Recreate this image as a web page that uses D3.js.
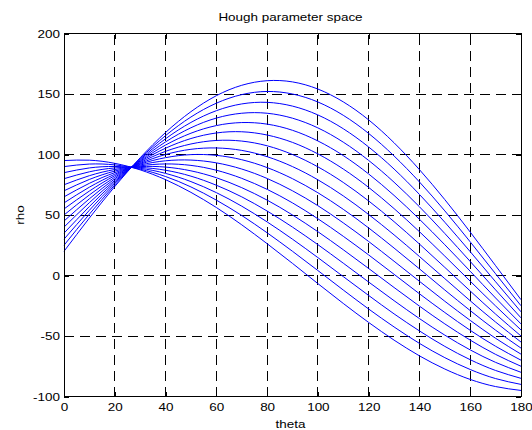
<!DOCTYPE html>
<html><head><meta charset="utf-8">
<script src="https://cdn.jsdelivr.net/npm/d3@7"></script>
<style>body{margin:0;background:#fff}svg{display:block}</style>
</head><body><svg id="chart" width="532" height="430"></svg>
<script>
// ---- data ----
const titleText = "Hough parameter space";
const xLabelText = "theta";
const yLabelText = "rho";
const thetaValues = [0,10,20,30,40,50,60,70,80,90,100,110,120,130,140,150,160,170,180];
const xTicks = [0,20,40,60,80,100,120,140,160,180];
const yTicks = [-100,-50,0,50,100,150,200];

const curveA = [20,47.5,73.5,97.3,118.2,135.4,148.6,157.2,161.0,160,154.1,143.5,128.6,109.7,87.5,62.7,35.9,8.1,-20];
const curveB = [25,50.7,74.8,96.7,115.6,131.0,142.4,149.5,152.1,150,143.4,132.4,117.4,98.8,77.3,53.4,27.8,1.4,-25];
const curveC = [30,53.9,76.1,96.0,113.0,126.5,136.2,141.8,143.1,140,132.7,121.3,106.2,88.0,67.0,44.0,19.7,-5.2,-30];
const curveD = [35,57.0,77.4,95.3,110.4,122.1,130.1,134.1,134.1,130,122.0,110.2,95.1,77.1,56.8,34.7,11.6,-11.9,-35];
const curveE = [40,60.2,78.6,94.6,107.8,117.6,123.9,126.4,125.1,120,111.2,99.1,83.9,66.2,46.5,25.4,3.5,-18.6,-40];
const curveF = [45,63.4,79.9,94.0,105.2,113.2,117.8,118.8,116.1,110,100.5,88.0,72.8,55.3,36.2,16.0,-4.7,-25.2,-45];
const curveG = [50,66.6,81.2,93.3,102.6,108.7,111.6,111.1,107.2,100,89.8,76.9,61.6,44.5,26.0,6.7,-12.8,-31.9,-50];
const curveH = [55,69.8,82.5,92.6,100.0,104.3,105.4,103.4,98.2,90,79.1,65.8,50.4,33.6,15.7,-2.6,-20.9,-38.5,-55];
const curveI = [60,73.0,83.7,92.0,97.4,99.9,99.3,95.7,89.2,80,68.4,54.7,39.3,22.7,5.5,-12.0,-29.0,-45.2,-60];
const curveJ = [65,76.2,85.0,91.3,94.8,95.4,93.1,88.0,80.2,70,57.7,43.5,28.1,11.8,-4.8,-21.3,-37.1,-51.9,-65];
const curveK = [70,79.4,86.3,90.6,92.2,91.0,87.0,80.3,71.2,60,46.9,32.4,17.0,1.0,-15.1,-30.6,-45.3,-58.5,-70];
const curveL = [75,82.5,87.6,90.0,89.6,86.5,80.8,72.6,62.3,50,36.2,21.3,5.8,-9.9,-25.3,-40.0,-53.4,-65.2,-75];
const curveM = [80,85.7,88.9,89.3,87.0,82.1,74.6,65.0,53.3,40,25.5,10.2,-5.4,-20.8,-35.6,-49.3,-61.5,-71.8,-80];
const curveN = [85,88.9,90.1,88.6,84.4,77.6,68.5,57.3,44.3,30,14.8,-0.9,-16.5,-31.7,-45.8,-58.6,-69.6,-78.5,-85];
const curveO = [90,92.1,91.4,87.9,81.8,73.2,62.3,49.6,35.3,20,4.1,-12.0,-27.7,-42.5,-56.1,-67.9,-77.7,-85.2,-90];
const curveP = [95,95.3,92.7,87.3,79.2,68.7,56.2,41.9,26.3,10,-6.7,-23.1,-38.8,-53.4,-66.4,-77.3,-85.9,-91.8,-95];
const rhoCurves = [curveA,curveB,curveC,curveD,curveE,curveF,curveG,curveH,curveI,curveJ,curveK,curveL,curveM,curveN,curveO,curveP];

// ---- layout ----
const L = 64, R = 521, T = 33.5, B = 396.5;
const FS = 11.6, SX = 1.16;
const FONT = "'Liberation Sans', Arial, Helvetica, sans-serif";

const svg = d3.select("#chart");
svg.append("rect").attr("width",532).attr("height",430).attr("fill","#fff");

const x = d3.scaleLinear().domain([0,180]).range([L,R]);
const y = d3.scaleLinear().domain([-100,200]).range([B,T]);

// grid
const grid = svg.append("g").attr("stroke","#000").attr("stroke-width",1)
  .attr("stroke-dasharray","10,6").attr("shape-rendering","crispEdges");
grid.selectAll("line.v").data(xTicks.filter(d => d > 0 && d < 180)).join("line")
  .attr("class","v").attr("x1",d=>x(d)).attr("x2",d=>x(d)).attr("y1",B).attr("y2",T);
grid.selectAll("line.h").data(yTicks.filter(d => d > -100 && d < 200)).join("line")
  .attr("class","h").attr("y1",d=>y(d)).attr("y2",d=>y(d)).attr("x1",L).attr("x2",R);

// curves
const line = d3.line().x((d,i)=>x(thetaValues[i])).y(d=>y(d)).curve(d3.curveNatural);
svg.append("g").selectAll("path").data(rhoCurves).join("path")
  .attr("d", line).attr("fill","none").attr("stroke","#0000ff").attr("stroke-width",1);

// axes
const plainFmt = d => String(d);
function styleAxis(g){
  g.attr("font-family",FONT).attr("font-size",FS);
  g.select(".domain").remove();
  g.selectAll(".tick line").attr("stroke","#000").attr("shape-rendering","crispEdges");
  g.selectAll(".tick text").attr("fill","#000");
}
const gB = svg.append("g").attr("transform",`translate(0,${B})`)
  .call(d3.axisBottom(x).tickValues(xTicks).tickFormat(plainFmt).tickSize(-5).tickSizeOuter(0)).call(styleAxis);
gB.selectAll(".tick text").attr("y",15).attr("dy",null).attr("transform",`scale(${SX},1)`);
const gT = svg.append("g").attr("transform",`translate(0,${T})`)
  .call(d3.axisTop(x).tickValues(xTicks).tickSize(-5).tickFormat("")).call(styleAxis);
const gL = svg.append("g").attr("transform",`translate(${L},0)`)
  .call(d3.axisLeft(y).tickValues(yTicks).tickFormat(plainFmt).tickSize(-5).tickSizeOuter(0)).call(styleAxis);
gL.selectAll(".tick text").attr("x",-4/SX).attr("transform",`scale(${SX},1)`);
const gR = svg.append("g").attr("transform",`translate(${R},0)`)
  .call(d3.axisRight(y).tickValues(yTicks).tickSize(-5).tickFormat("")).call(styleAxis);

// box
svg.append("rect").attr("x",L).attr("y",T).attr("width",R-L).attr("height",B-T)
  .attr("fill","none").attr("stroke","#000").attr("stroke-width",1).attr("shape-rendering","crispEdges");

// texts
svg.append("text").attr("transform",`translate(${(L+R)/2-2},21) scale(${SX},1)`)
  .attr("text-anchor","middle").attr("font-family",FONT).attr("font-size",FS).attr("fill","#000").text(titleText);
svg.append("text").attr("transform",`translate(${(L+R)/2-2},427.5) scale(${SX},1)`)
  .attr("text-anchor","middle").attr("font-family",FONT).attr("font-size",FS).attr("fill","#000").text(xLabelText);
svg.append("text").attr("transform",`translate(24,215) rotate(-90) scale(${SX},1)`)
  .attr("text-anchor","middle").attr("font-family",FONT).attr("font-size",FS).attr("fill","#000").text(yLabelText);
</script></body></html>
